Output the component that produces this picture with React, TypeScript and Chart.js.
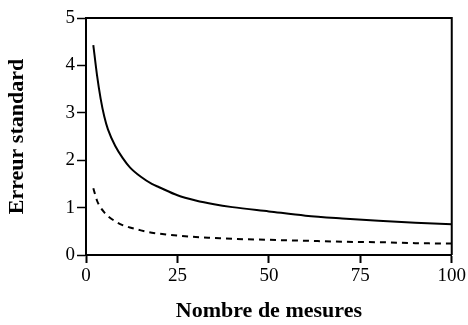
import React, { useEffect, useRef } from "react";
import { Chart, registerables } from "chart.js";

Chart.register(...registerables);

const nValues = [2, 3, 4, 5, 6, 8, 10, 12, 15, 18, 20, 25, 30, 35, 40, 50, 60, 70, 80, 90, 100];
const solidSE = [4.43, 3.8, 3.3, 2.92, 2.65, 2.3, 2.05, 1.85, 1.65, 1.5, 1.43, 1.26, 1.15, 1.07, 1.01, 0.92, 0.83, 0.77, 0.72, 0.68, 0.65];
const dashedSE = [1.41, 1.15, 1.0, 0.9, 0.82, 0.71, 0.63, 0.58, 0.52, 0.47, 0.45, 0.41, 0.38, 0.36, 0.34, 0.32, 0.3, 0.28, 0.27, 0.25, 0.24];
const xTitle = "Nombre de mesures";
const yTitle = "Erreur standard";

const FONT = "'Liberation Serif', 'DejaVu Serif', serif";

const framePlugin = {
  id: "frame",
  afterDatasetsDraw(chart: any) {
    const { ctx, chartArea } = chart;
    ctx.save();
    ctx.strokeStyle = "#000";
    ctx.lineWidth = 2;
    ctx.beginPath();
    ctx.moveTo(chartArea.left, chartArea.top);
    ctx.lineTo(chartArea.right, chartArea.top);
    ctx.lineTo(chartArea.right, chartArea.bottom);
    ctx.stroke();
    ctx.restore();
  },
};

export default function App() {
  const ref = useRef<HTMLCanvasElement>(null);
  useEffect(() => {
    document.body.style.margin = "0";
    const chart = new Chart(ref.current!, {
      type: "line",
      data: {
        datasets: [
          {
            data: nValues.map((n, i) => ({ x: n, y: solidSE[i] })),
            borderColor: "#000",
            borderWidth: 2,
            pointRadius: 0,
            cubicInterpolationMode: "monotone",
          },
          {
            data: nValues.map((n, i) => ({ x: n, y: dashedSE[i] })),
            borderColor: "#000",
            borderWidth: 2,
            borderDash: [6, 5],
            pointRadius: 0,
            cubicInterpolationMode: "monotone",
          },
        ],
      },
      options: {
        animation: false,
        responsive: false,
        maintainAspectRatio: false,
        layout: { padding: { left: 0, right: 16, top: 18, bottom: 0 } },
        plugins: { legend: { display: false }, tooltip: { enabled: false } },
        scales: {
          x: {
            type: "linear",
            min: 0,
            max: 100,
            afterFit: (s: any) => { s.height = 70; },
            ticks: { stepSize: 25, color: "#000", font: { family: FONT, size: 19 }, padding: 2, maxRotation: 0 },
            grid: { drawOnChartArea: false, drawTicks: true, tickLength: 8, tickColor: "#000", tickWidth: 2 },
            border: { display: true, color: "#000", width: 2 },
            title: { display: true, text: xTitle, color: "#000", font: { family: FONT, size: 22, weight: "bold" }, padding: { top: 0, bottom: 0 } },
          },
          y: {
            min: 0,
            max: 5,
            afterFit: (s: any) => { s.width = 86; },
            ticks: { stepSize: 1, color: "#000", font: { family: FONT, size: 19 }, padding: 2 },
            grid: { drawOnChartArea: false, drawTicks: true, tickLength: 9, tickColor: "#000", tickWidth: 1.5 },
            border: { display: true, color: "#000", width: 2 },
            title: { display: true, text: yTitle, color: "#000", font: { family: FONT, size: 22, weight: "bold" }, padding: { top: 4, bottom: 0 } },
          },
        },
      },
      plugins: [framePlugin],
    } as any);
    return () => chart.destroy();
  }, []);
  return (
    <div style={{ position: "absolute", left: 0, top: 0, width: 468, height: 325, background: "#fff" }}>
      <canvas ref={ref} width={468} height={325} style={{ width: 468, height: 325 }} />
    </div>
  );
}
